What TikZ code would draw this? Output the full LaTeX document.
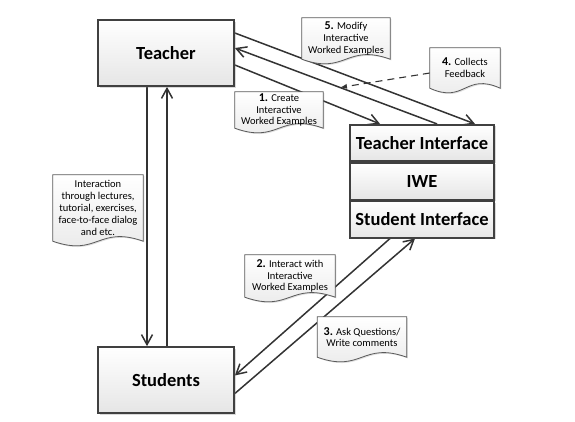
\documentclass[tikz,border=0pt]{standalone}
\usepackage{fontspec}
\setmainfont{Carlito}
\usetikzlibrary{positioning, arrows.meta, calc, shadows, backgrounds}

\begin{document}
\begin{tikzpicture}[x=1pt,y=-1pt,>={Straight Barb[length=10pt,width=11pt]}]
  \tikzstyle{box}=[draw=black!75, line width=1.7pt, top color=white, bottom color=black!10, inner sep=2pt, drop shadow={shadow xshift=1.5pt,shadow yshift=-1.5pt,opacity=0.3}, font=\fontsize{18.5}{20}\selectfont\bfseries]
  \tikzstyle{note}=[minimum width=88pt, minimum height=40pt, inner sep=1pt, align=center, font=\fontsize{10.5}{11.8}\selectfont]
  \tikzstyle{noteshape}=[draw=black!65, line width=0.8pt, top color=white, bottom color=black!9, drop shadow={shadow xshift=1.2pt,shadow yshift=-1.2pt,opacity=0.25}]
  \tikzstyle{link}=[draw=black!80, line width=1.5pt]

  \useasboundingbox (0,0) rectangle (575,421);

  \node[box, minimum width=136pt, minimum height=66pt] (T) at (166,53) {Teacher};
  \node[box, minimum width=136pt, minimum height=66pt] (St) at (166,380) {Students};
  \node[box, minimum width=144pt, minimum height=36.5pt] (TI) at (422,143) {Teacher Interface};
  \node[box, minimum width=144pt, minimum height=36.5pt] (IWE) [below=0pt of TI] {IWE};
  \node[box, minimum width=144pt, minimum height=36.5pt] (SI) [below=0pt of IWE] {Student Interface};

  \node[note, minimum height=41pt] (N5) at (346,38.5) {{\large\bfseries 5.} Modify\\Interactive\\Worked Examples};
  \node[note, minimum height=36pt] (N1) at (279,110) {{\large\bfseries 1.} Create\\Interactive\\Worked Examples};
  \node[note, minimum width=70pt] (N4) at (465,68) {{\large\bfseries 4.} Collects\\Feedback};
  \node[note, minimum width=90pt, minimum height=66pt] (NI) at (98,208) {Interaction\\through lectures,\\tutorial, exercises,\\face-to-face dialog\\and etc.};
  \node[note, minimum width=90pt, minimum height=42pt] (N2) at (290,276) {{\large\bfseries 2.} Interact with\\Interactive\\Worked Examples};
  \node[note, minimum width=89pt] (N3) at (362,337) {{\large\bfseries 3.} Ask Questions/\\Write comments};

  \begin{scope}[on background layer]
    \draw[link, ->] ([yshift=20pt]T.east) -- ([xshift=53pt]TI.north);
    \draw[link, ->] ([xshift=15pt]TI.north) -- ([yshift=5pt]T.east) coordinate[pos=0.48] (fb);
    \draw[link, ->] ([yshift=-12pt]T.east) -- ([xshift=-42pt]TI.north);
    \draw[link, line width=1.1pt, dash pattern=on 7pt off 5pt, -{Latex[length=7pt,width=5pt]}] ([yshift=-5pt]N4.west) -- (fb);
    \draw[link, ->] ([xshift=-19pt]T.south) -- ([xshift=-19pt]St.north);
    \draw[link, ->] ([xshift=1pt]St.north) -- ([xshift=1pt]T.south);
    \draw[link, ->] ([xshift=-32pt]SI.south) -- ([yshift=4.5pt]St.east);
    \draw[link, ->] ([yshift=-13.5pt]St.east) -- ([xshift=-7pt]SI.south);
    \foreach \n in {N1,N2,N3,N4,N5,NI}
      \draw[noteshape] (\n.south east) -- (\n.north east) -- (\n.north west) -- (\n.south west)
        .. controls ($(\n.south)+(0,16)$) and ($(\n.south)+(0,-16)$) .. (\n.south east) -- cycle;
  \end{scope}
\end{tikzpicture}
\end{document}
